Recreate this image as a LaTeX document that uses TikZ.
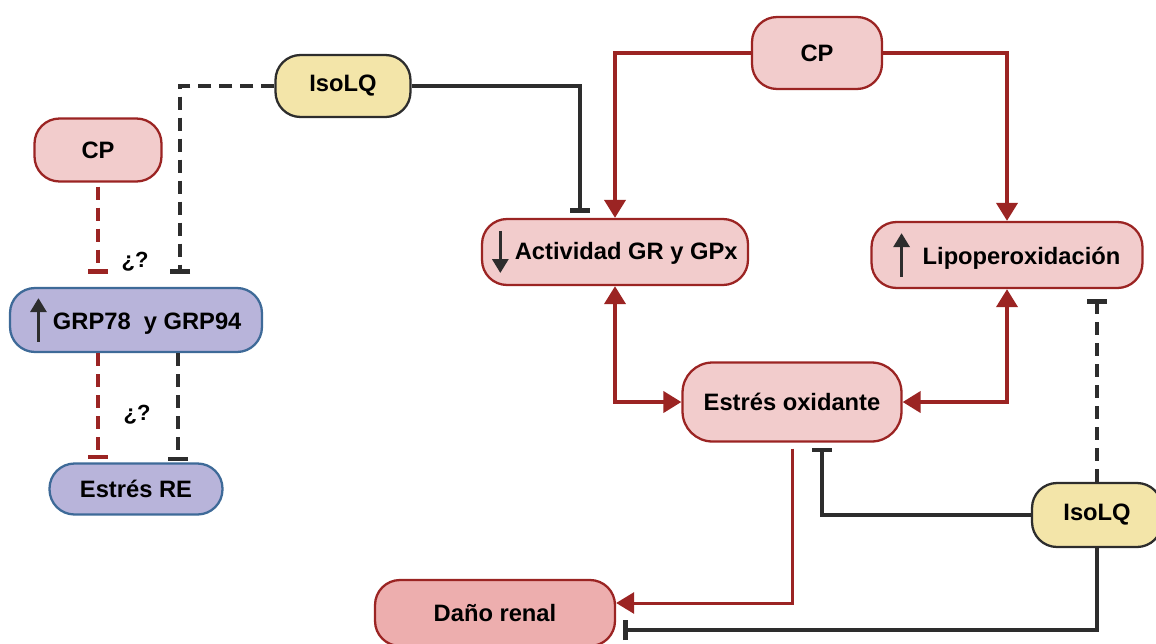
\documentclass[tikz,border=0pt]{standalone}
\usepackage{fontspec}
\setmainfont{Liberation Sans}
\usepackage{tikz}
\usetikzlibrary{positioning}
\usetikzlibrary{arrows.meta}
\usetikzlibrary{calc}
\definecolor{cpfill}{RGB}{242,204,204}
\definecolor{cpred}{RGB}{155,36,35}
\definecolor{danofill}{RGB}{237,174,174}
\definecolor{isofill}{RGB}{243,229,169}
\definecolor{erfill}{RGB}{184,180,218}
\definecolor{erblue}{RGB}{62,106,152}
\definecolor{linegray}{RGB}{45,45,45}
% little arrows inside the boxes
\newcommand{\subir}{\tikz[baseline=0pt]\draw[-{Triangle[length=8pt,width=9pt]},line width=2pt,draw=linegray] (0pt,-7pt) -- (0pt,18pt);}
\newcommand{\bajar}{\tikz[baseline=0pt]\draw[-{Triangle[length=8pt,width=9pt]},line width=2pt,draw=linegray] (0pt,16pt) -- (0pt,-8pt);}

\begin{document}
\begin{tikzpicture}[x=0.02cm,y=-0.02cm]
	\clip (0,0) rectangle (1156,643);
	\begin{scope}[every node/.style={rectangle,rounded corners=0.5cm,line width=1.3pt,
	              font=\fontsize{13.5}{15}\selectfont\bfseries}]
	    \node[draw=linegray,fill=isofill,minimum width=2.7cm,minimum height=1.24cm] (isoA) at (343,86) {IsoLQ};
	    \node[draw=cpred,fill=cpfill,minimum width=2.6cm,minimum height=1.44cm] (cpB) at (817,53) {CP};
	    \node[draw=cpred,fill=cpfill,minimum width=2.54cm,minimum height=1.26cm] (cpA) at (98,150) {CP};
	    \node[draw=erblue,fill=erfill,minimum width=5.04cm,minimum height=1.28cm] (grp) at (136,320) {\subir\ GRP78\ \ y GRP94};
	    \node[draw=erblue,fill=erfill,minimum width=3.46cm,minimum height=1.02cm] (re) at (136,489) {Estrés RE};
	    \node[draw=cpred,fill=cpfill,minimum width=5.32cm,minimum height=1.32cm] (act) at (615,252) {\bajar\ Actividad GR y GPx};
	    \node[draw=cpred,fill=cpfill,minimum width=5.42cm,minimum height=1.32cm] (lipo) at (1007,255) {\subir\ \ Lipoperoxidación};
	    \node[draw=cpred,fill=cpfill,minimum width=4.38cm,minimum height=1.58cm,rounded corners=0.6cm] (ox) at (792,402) {Estrés oxidante};
	    \node[draw=linegray,fill=isofill,minimum width=2.6cm,minimum height=1.28cm] (isoB) at (1097,515) {IsoLQ};
	    \node[draw=cpred,fill=danofill,minimum width=4.8cm,minimum height=1.32cm] (dano) at (495,613) {Daño renal};
	\end{scope}

	\begin{scope}[font=\fontsize{12.5}{14}\selectfont\bfseries]
	    \node (q1) at (135,262) {¿?};
	    \node (q2) at (137,415) {¿?};
	\end{scope}

	\begin{scope}[line width=2.2pt, >={Triangle[length=3.6mm,width=4.2mm]},
	              inhib/.style={-{Bar[width=4mm,line width=2.6pt]}},
	              punteado/.style={dash pattern=on 0.26cm off 0.16cm}]
	    % dashed inhibitions on the ER side
	    \draw[linegray,inhib,punteado] (isoA.west) -| ($(grp.north)+(44,-13)$);
	    \draw[cpred,inhib,punteado] ($(cpA.south)+(0,4)$) -- ($(grp.north)+(-38,-13)$);
	    \draw[cpred,inhib,punteado] ($(grp.south)+(-38,0)$) -- ($(re.north)+(-38,-3)$);
	    \draw[linegray,inhib,punteado] ($(grp.south)+(42,0)$) -- ($(re.north)+(42,-1)$);
	    % oxidative side
	    \draw[linegray,inhib] (isoA.east) -| ($(act.north)+(-35,-5)$);
	    \draw[cpred,->] (cpB.west) -| (act.north);
	    \draw[cpred,->] (cpB.east) -| (lipo.north);
	    \draw[cpred,<->] (act.south) |- (ox.west);
	    \draw[cpred,<->] (lipo.south) |- (ox.east);
	    \draw[linegray,inhib,punteado] (isoB.north) -- ($(lipo.south)+(90,10)$);
	    \draw[linegray,inhib] (isoB.west) -| ($(ox.south)+(30,5)$);
	    \draw[cpred,->,line width=1.7pt] ($(ox.south)+(0,6)$) |- ($(dano.east)+(0,-10)$);
	    \draw[linegray,inhib] (isoB.south) |- ($(dano.east)+(7,17)$);
	\end{scope}
\end{tikzpicture}
\end{document}
